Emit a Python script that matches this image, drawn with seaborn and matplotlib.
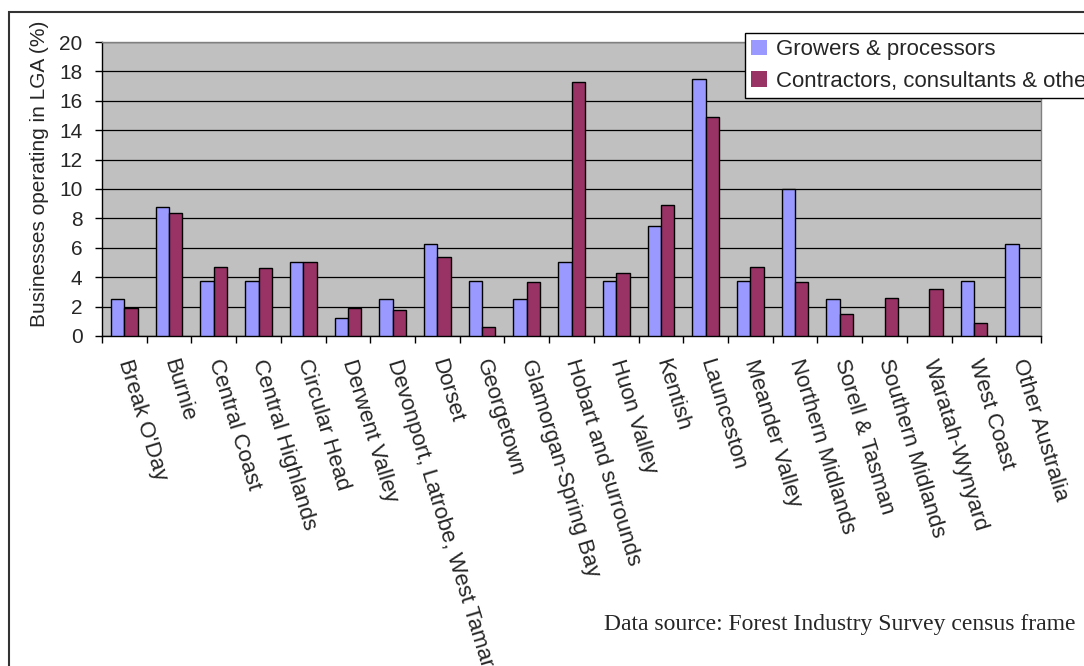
import matplotlib
matplotlib.use("Agg")
import matplotlib.pyplot as plt
import seaborn as sns
import pandas as pd
from matplotlib.patches import Rectangle
from matplotlib.ticker import FixedLocator

# Local government areas (plus interstate) and share of businesses in each
regions = [
    "Break O'Day", "Burnie", "Central Coast", "Central Highlands", "Circular Head",
    "Derwent Valley", "Devonport, Latrobe, West Tamar", "Dorset", "Georgetown",
    "Glamorgan-Spring Bay", "Hobart and surrounds", "Huon Valley", "Kentish",
    "Launceston", "Meander Valley", "Northern Midlands", "Sorell & Tasman",
    "Southern Midlands", "Waratah-Wynyard", "West Coast", "Other Australia",
]
growers = [2.5, 8.75, 3.75, 3.75, 5.0, 1.25, 2.5, 6.25, 3.75, 2.5, 5.0,
           3.75, 7.5, 17.5, 3.75, 10.0, 2.5, 0.0, 0.0, 3.75, 6.25]
contractors = [1.9, 8.4, 4.7, 4.6, 5.0, 1.9, 1.8, 5.4, 0.6, 3.7, 17.3,
               4.3, 8.9, 14.9, 4.7, 3.7, 1.5, 2.6, 3.2, 0.9, 0.0]
series_names = ["Growers & processors", "Contractors, consultants & other"]
y_ticks = list(range(0, 21, 2))
source_note = "Data source: Forest Industry Survey census frame"
y_title = "Businesses operating in LGA (%)"

df = pd.DataFrame({"Region": regions,
                   series_names[0]: growers,
                   series_names[1]: contractors})
long = df.melt(id_vars="Region", var_name="Series", value_name="Share")

sns.set_theme(style="white")
plt.rcParams["font.family"] = ["Liberation Sans", "DejaVu Sans"]

W, H = 1084, 666
fig = plt.figure(figsize=(W / 100, H / 100), dpi=100)
fig.patch.set_facecolor("white")

left, right, top, bottom = 102, 1041, 42, 336
ax = fig.add_axes([left / W, 1 - bottom / H, (right - left) / W, (bottom - top) / H])
ax.set_facecolor("#C0C0C0")

sns.barplot(data=long, x="Region", y="Share", hue="Series", order=regions,
            hue_order=series_names, palette=["#9999FF", "#993366"],
            saturation=1, width=0.6, edgecolor="black", linewidth=1.0,
            ax=ax, zorder=3)

# hide outlines of empty bars
for p in ax.patches:
    if p.get_height() == 0:
        p.set_linewidth(0)

handles, labels = ax.get_legend_handles_labels()
ax.get_legend().remove()

ax.set_ylim(0, 20)
ax.set_xlim(-0.5, len(regions) - 0.5)
ax.yaxis.set_major_locator(FixedLocator(y_ticks))
ax.yaxis.grid(True, color="black", linewidth=0.9, zorder=0)
ax.xaxis.grid(False)
ax.set_axisbelow(True)

for side in ["left", "bottom"]:
    ax.spines[side].set_color("black")
    ax.spines[side].set_linewidth(1.0)
for side in ["top", "right"]:
    ax.spines[side].set_color("#808080")
    ax.spines[side].set_linewidth(1.0)

ax.tick_params(axis="y", direction="out", length=5, width=1, color="black",
               labelsize=15, pad=9, left=True)
ax.set_yticklabels([str(t) for t in y_ticks])

# category boundaries carry the tick marks; labels sit at category centres
ax.xaxis.set_minor_locator(FixedLocator([i - 0.5 for i in range(len(regions) + 1)]))
ax.tick_params(axis="x", which="minor", direction="out", length=5, width=1,
               color="black", bottom=True)
ax.tick_params(axis="x", which="major", length=0, pad=17, labelsize=16)
ax.set_xticks(range(len(regions)))
ax.set_xticklabels(regions, rotation=-73, ha="left", va="center",
                   rotation_mode="anchor")
ax.set_xlabel("")

ax.set_ylabel(y_title, fontsize=15)
ax.yaxis.set_label_coords((49 - left) / (right - left), 0.55)

leg = fig.legend(handles, labels, loc="upper left",
                 bbox_to_anchor=(745 / W, 1 - 33 / H), fontsize=16,
                 frameon=True, fancybox=False, edgecolor="black",
                 facecolor="white", framealpha=1, handlelength=0.7,
                 handleheight=0.7, handletextpad=0.4, borderpad=0.28,
                 labelspacing=0.48, borderaxespad=0)
leg.get_frame().set_linewidth(1.0)

fig.text(1076 / W, 1 - 630 / H, source_note, ha="right", va="baseline",
         family=["Liberation Serif", "DejaVu Serif"], fontsize=17)

# outer chart frame
fig.add_artist(Rectangle((9 / W, -0.1), 1.2, 1.1 - 12 / H,
                         transform=fig.transFigure, fill=False,
                         edgecolor="#333333", linewidth=1.5, clip_on=False))

fig.savefig("out.png", dpi=100)
